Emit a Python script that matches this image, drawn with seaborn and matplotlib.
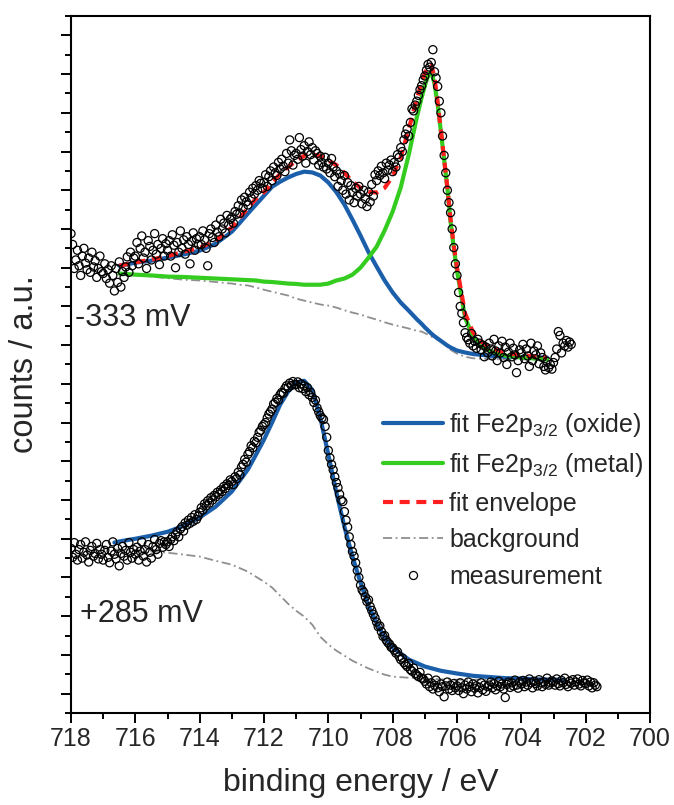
import numpy as np
import pandas as pd
import matplotlib
matplotlib.use("Agg")
import matplotlib.pyplot as plt
import seaborn as sns
from matplotlib.lines import Line2D
from matplotlib.ticker import MultipleLocator, NullFormatter

sns.set_style("ticks")
plt.rcParams["font.family"] = ["Liberation Sans", "DejaVu Sans"]
plt.rcParams["mathtext.default"] = "regular"

# ------------------------------------------------------------------ data
# -333 mV spectrum: fitted components (binding energy in eV, counts in a.u.)
fit_top_energy = [716.5, 716.0, 715.5, 715.0, 714.5, 714.0, 713.5, 713.0,
                  712.75, 712.5, 712.25, 712.0, 711.75, 711.5, 711.25, 711.0,
                  710.75, 710.5, 710.25, 710.0, 709.75, 709.5, 709.25, 709.0,
                  708.75, 708.5, 708.25, 708.0, 707.75, 707.5, 707.25,
                  707.1, 707.0, 706.9, 706.8, 706.7, 706.6, 706.5, 706.4,
                  706.3, 706.2, 706.1, 706.0, 705.75, 705.5, 705.25, 705.0,
                  704.5, 704.0, 703.5, 703.2]
fit_top_oxide = [1105, 1113, 1118, 1126, 1134, 1144, 1162, 1193,
                 1216, 1240, 1263, 1286, 1309, 1322, 1333, 1342,
                 1348, 1346, 1338, 1320, 1295, 1263, 1224, 1183,
                 1140, 1103, 1067, 1036, 1010, 989, 967,
                 955, 946, 938, 930, 923, 917, 911, 905,
                 899, 894, 890, 886, 881, 877, 875, 873,
                 870, 869, 868, 868]
fit_top_metal = [1085, 1082, 1080, 1077, 1076, 1074, 1072, 1070,
                 1069, 1068, 1067, 1064, 1063, 1061, 1059, 1058,
                 1056, 1056, 1056, 1059, 1067, 1072, 1082, 1100,
                 1126, 1154, 1196, 1245, 1307, 1392, 1488,
                 1539, 1570, 1596, 1606, 1575, 1521, 1451, 1379,
                 1307, 1219, 1152, 1092, 971, 922, 899, 886,
                 873, 868, 865, 863]
fit_top_envelope = [1105, 1114, 1121, 1130, 1141, 1151, 1171, 1204,
                    1229, 1254, 1278, 1295, 1320, 1342, 1360, 1376,
                    1389, 1392, 1389, 1377, 1365, 1345, 1322, 1306,
                    1296, 1294, 1306, 1336, 1385, 1458, 1535,
                    1578, 1603, 1620, 1624, 1592, 1526, 1454, 1380,
                    1307, 1225, 1157, 1100, 982, 933, 909, 895,
                    880, 874, 870, 868]
fit_top_background = [1085, 1081, 1077, 1073, 1069, 1067, 1063, 1059,
                      1056, 1054, 1049, 1043, 1038, 1033, 1028, 1020,
                      1015, 1010, 1005, 1002, 997, 990, 984, 979,
                      972, 966, 959, 953, 948, 943, 937,
                      935, 931, 927, 922, 919, 914, 909, 903,
                      896, 888, 883, 878, 870, 866, 865, 864,
                      863, 863, 863, 863]

# +285 mV spectrum: fitted components
fit_bot_energy = [716.65, 716.5, 716.0, 715.5, 715.0, 714.5, 714.0, 713.5, 713.0,
                  712.5, 712.25, 712.0, 711.75, 711.5, 711.25, 711.0,
                  710.75, 710.5, 710.25, 710.0, 709.75, 709.5, 709.25, 709.0,
                  708.75, 708.5, 708.25, 708.0, 707.5, 707.0, 706.5, 706.0,
                  705.5, 705.0, 704.5, 704.0, 703.5, 703.0, 702.7]
fit_bot_oxide = [390, 393, 400, 408, 418, 433, 455, 483, 522,
                 579, 617, 656, 700, 746, 780, 803,
                 808, 785, 713, 617, 519, 431, 354, 287,
                 227, 183, 145, 119, 88, 70, 59, 52,
                 46, 43, 40, 39, 37, 36, 36]
fit_bot_background = [372, 372, 369, 367, 364, 359, 354, 343, 333,
                      315, 302, 289, 274, 253, 232, 214,
                      199, 178, 147, 127, 111, 98, 85, 75,
                      65, 57, 49, 44, 41, 39, 37, 36,
                      36, 36, 36, 36, 36, 36, 36]

# measurements, 0.05 eV steps
meas_top_start, meas_top_end = 718.00, 702.45
meas_top_counts = [
    1188, 1160, 1098, 1120, 1145, 1105, 1080, 1130, 1150, 1112, 1095, 1125, 1088, 1140, 1102, 1118, 1075, 1098, 1130, 1090,
    1085, 1110, 1072, 1095, 1060, 1105, 1080, 1040, 1098, 1062, 1115, 1050, 1090, 1075, 1102, 1128, 1088, 1140, 1105, 1125,
    1130, 1165, 1110, 1150, 1182, 1125, 1140, 1098, 1170, 1155, 1120, 1145, 1188, 1135, 1160, 1108, 1150, 1175, 1130, 1162,
    1145, 1170, 1130, 1185, 1158, 1100, 1165, 1140, 1195, 1150, 1172, 1135, 1180, 1160, 1110, 1168, 1190, 1145, 1175, 1160,
    1180, 1160, 1195, 1172, 1150, 1105, 1188, 1200, 1178, 1165, 1210, 1192, 1180, 1225, 1200, 1215, 1190, 1235, 1210, 1225,
    1230, 1215, 1245, 1238, 1260, 1240, 1275, 1255, 1282, 1270, 1262, 1295, 1280, 1305, 1290, 1312, 1300, 1325, 1318, 1305,
    1320, 1340, 1310, 1335, 1350, 1325, 1360, 1345, 1338, 1372, 1355, 1380, 1362, 1348, 1395, 1370, 1430, 1402, 1365, 1390,
    1395, 1380, 1436, 1405, 1388, 1415, 1370, 1400, 1425, 1392, 1410, 1378, 1402, 1395, 1365, 1388, 1372, 1360, 1385, 1355,
    1370, 1345, 1382, 1360, 1335, 1350, 1310, 1342, 1325, 1300, 1338, 1290, 1320, 1275, 1312, 1295, 1268, 1305, 1285, 1310,
    1290, 1265, 1300, 1278, 1258, 1295, 1270, 1315, 1285, 1340, 1325, 1350, 1338, 1362, 1345, 1330, 1370, 1352, 1365, 1378,
    1348, 1372, 1360, 1392, 1385, 1410, 1400, 1430, 1445, 1458, 1440, 1475, 1510, 1505, 1520, 1530, 1545, 1560, 1570, 1585,
    1595, 1610, 1625, 1618, 1630, 1663, 1606, 1590, 1568, 1530, 1500, 1440, 1390, 1345, 1300, 1268, 1242, 1200, 1152, 1110,
    1080, 1036, 1000, 982, 958, 932, 920, 914, 905, 930, 898, 910, 892, 915, 905, 888, 900, 870, 895, 880,
    905, 890, 872, 915, 885, 860, 898, 880, 910, 868, 895, 850, 882, 905, 870, 892, 875, 829, 860, 888,
    880, 902, 865, 890, 872, 845, 905, 860, 885, 875, 898, 852, 880, 868, 845, 836, 858, 842, 850, 838,
    855, 868, 890, 935, 925, 880, 905, 898, 912, 895, 908, 902,
]
meas_bot_start, meas_bot_end = 718.00, 701.65
meas_bot_counts = [
    375, 352, 390, 360, 345, 372, 385, 350, 365, 392, 358, 340, 370, 380, 355, 362, 388, 348, 372, 360,
    345, 370, 385, 352, 338, 368, 392, 360, 348, 375, 330, 362, 380, 355, 370, 345, 390, 365, 350, 372,
    360, 378, 345, 368, 392, 355, 372, 340, 385, 365, 350, 380, 398, 372, 360, 388, 395, 378, 392, 385,
    392, 380, 398, 405, 395, 410, 418, 405, 425, 431, 420, 441, 435, 448, 440, 455, 445, 462, 450, 458,
    468, 480, 474, 490, 485, 498, 492, 506, 500, 512, 508, 520, 515, 526, 522, 535, 530, 542, 538, 552,
    548, 540, 560, 555, 572, 565, 585, 592, 605, 598, 618, 625, 640, 635, 652, 648, 662, 675, 680, 690,
    695, 700, 712, 722, 728, 735, 748, 752, 762, 758, 772, 778, 776, 788, 795, 790, 802, 796, 806, 798,
    798, 805, 790, 800, 788, 795, 780, 790, 772, 778, 765, 752, 758, 738, 728, 718, 712, 708, 690, 662,
    628, 609, 592, 578, 560, 545, 532, 515, 500, 496, 470, 448, 430, 405, 385, 367, 355, 338, 318, 300,
    280, 268, 262, 250, 238, 242, 225, 215, 205, 196, 185, 173, 175, 160, 148, 150, 138, 132, 128, 120,
    118, 112, 105, 108, 96, 88, 92, 80, 75, 70, 78, 62, 58, 66, 52, 48, 44, 55, 40, 38,
    32, 25, 40, 18, 28, 12, 22, 35, 15, 5, 25, 18, -8, 20, 30, 12, 22, 8, 26, 15,
    20, 8, 28, 15, 0, 22, 12, 30, 18, 5, 25, 14, 20, 2, 16, 28, 10, 22, 6, 18,
    22, 30, 15, 26, 10, 20, 32, 18, 25, 12, -10, 24, 30, 16, 28, 20, 35, 22, 14, 30,
    25, 34, 18, 30, 22, 38, 28, 15, 32, 26, 20, 36, 28, 18, 30, 24, 40, 22, 28, 33,
    30, 22, 38, 26, 20, 34, 28, 40, 24, 18, 32, 27, 36, 22, 30, 38, 25, 20, 34, 28,
    26, 35, 20, 30, 15, 28, 22, 18,
]

x_ticks = [718, 716, 714, 712, 710, 708, 706, 704, 702, 700]
labels = ["fit Fe2p$_{3/2}$ (oxide)", "fit Fe2p$_{3/2}$ (metal)",
          "fit envelope", "background", "measurement"]
annotations = ["-333 mV", "+285 mV"]

C_OXIDE = "#1b5fab"
C_METAL = "#33cc1f"
C_ENV = "#ff1f1f"
C_BG = "#8f8f8f"

DASH_ENV = (0, (2.4, 1.6))
DASH_BG = (0, (5, 2, 1, 2))

# ------------------------------------------------------------------ figure
fig = plt.figure(figsize=(6.74, 8.05), dpi=100)
ax = fig.add_axes([71 / 674, 92 / 805, 579 / 674, 697 / 805])


def draw_line(x, y, color, lw, ls, z):
    sns.lineplot(x=x, y=y, ax=ax, color=color, linewidth=lw, linestyle=ls,
                 sort=False, estimator=None, zorder=z, legend=False)


draw_line(fit_top_energy, fit_top_background, C_BG, 1.3, DASH_BG, 2)
draw_line(fit_top_energy, fit_top_oxide, C_OXIDE, 3.0, "-", 3)
draw_line(fit_top_energy, fit_top_metal, C_METAL, 3.0, "-", 3)
draw_line(fit_top_energy, fit_top_envelope, C_ENV, 3.0, DASH_ENV, 4)
draw_line(fit_bot_energy, fit_bot_background, C_BG, 1.3, DASH_BG, 2)
draw_line(fit_bot_energy, fit_bot_oxide, C_OXIDE, 3.0, "-", 3)

meas = pd.concat([
    pd.DataFrame({"energy": np.linspace(meas_top_start, meas_top_end, len(meas_top_counts)),
                  "counts": meas_top_counts}),
    pd.DataFrame({"energy": np.linspace(meas_bot_start, meas_bot_end, len(meas_bot_counts)),
                  "counts": meas_bot_counts}),
], ignore_index=True)
sns.scatterplot(data=meas, x="energy", y="counts", ax=ax, marker="o", s=34,
                facecolor="none", edgecolor="black", linewidth=0.9,
                zorder=5, legend=False, clip_on=True)

ax.set_xlim(718, 700)
ax.set_ylim(-50, 1750)
ax.set_xticks(x_ticks)
ax.xaxis.set_minor_locator(MultipleLocator(1))
ax.yaxis.set_major_locator(MultipleLocator(100))
ax.yaxis.set_minor_locator(MultipleLocator(50))
ax.yaxis.set_major_formatter(NullFormatter())

for sp in ax.spines.values():
    sp.set_linewidth(1.5)
    sp.set_color("black")
ax.tick_params(which="both", direction="out", width=1.4, color="black",
               top=False, right=False)
ax.tick_params(which="major", length=7)
ax.tick_params(which="minor", length=4)
ax.tick_params(axis="x", labelsize=18, pad=3)

ax.set_xlabel("binding energy / eV", fontsize=23, labelpad=12)
ax.set_ylabel("counts / a.u.", fontsize=23.5, labelpad=12)

ax.text(0.007, 0.567, annotations[0], transform=ax.transAxes, fontsize=22,
        va="center", ha="left")
ax.text(0.0155, 0.142, annotations[1], transform=ax.transAxes, fontsize=22,
        va="center", ha="left")

handles = [
    Line2D([], [], color=C_OXIDE, lw=3.0),
    Line2D([], [], color=C_METAL, lw=3.0),
    Line2D([], [], color=C_ENV, lw=3.0, ls=DASH_ENV),
    Line2D([], [], color=C_BG, lw=1.3, ls=DASH_BG),
    Line2D([], [], ls="none", marker="o", mfc="none", mec="black", ms=5.8, mew=0.9),
]
ax.legend(handles=handles, labels=labels, loc="upper left",
          bbox_to_anchor=(0.539, 0.434), frameon=False, fontsize=18,
          handlelength=2.4, handletextpad=0.25, labelspacing=0.5,
          borderpad=0, borderaxespad=0, numpoints=1)

fig.savefig("out.png", dpi=100)
